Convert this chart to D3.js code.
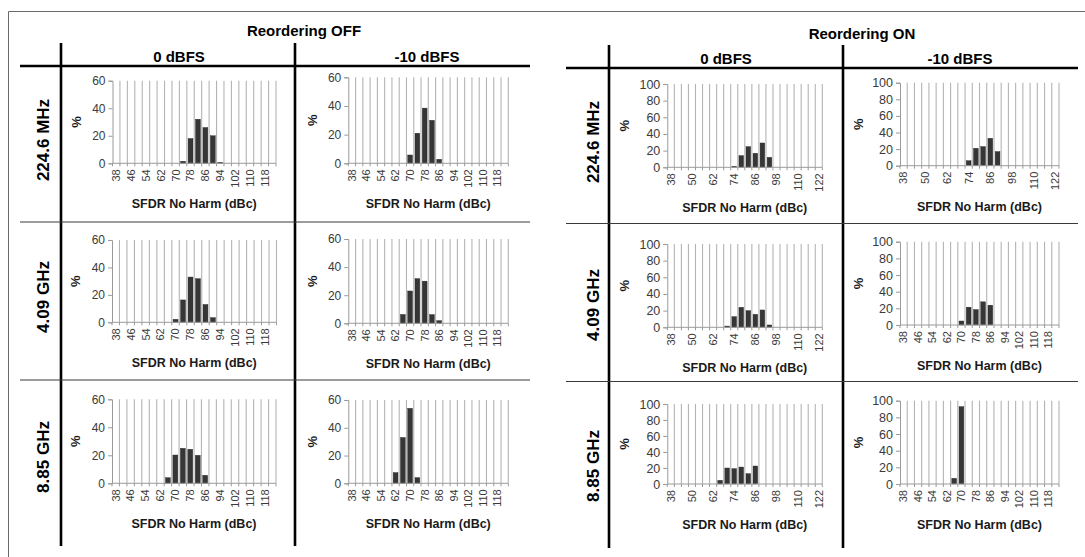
<!DOCTYPE html>
<html>
<head>
<meta charset="utf-8">
<script src="https://cdn.jsdelivr.net/npm/d3@7"></script>
<style>
  html, body { margin: 0; padding: 0; background: #fff; }
  svg { display: block; font-family: "Liberation Sans", Arial, sans-serif; }
</style>
</head>
<body>
<svg id="chart" width="1085" height="557"></svg>
<script>
// SFDR (no harmonics) histogram bins, dBc
const bins = [38, 42, 46, 50, 54, 58, 62, 66, 70, 74, 78, 82, 86, 90, 94, 98, 102, 106, 110, 114, 118, 122];

// Category labels shown on the x axes
const labelsEvery2 = [38, 46, 54, 62, 70, 78, 86, 94, 102, 110, 118];
const labelsEvery3 = [38, 50, 62, 74, 86, 98, 110, 122];

// y-axis ticks
const ticksOff = [0, 20, 40, 60];
const ticksOn = [0, 20, 40, 60, 80, 100];

// Row / column headings
const groupTitles = ["Reordering OFF", "Reordering ON"];
const levelTitles = ["0 dBFS", "-10 dBFS"];
const freqTitles = ["224.6 MHz", "4.09 GHz", "8.85 GHz"];
const xTitle = "SFDR No Harm (dBc)";
const yTitle = "%";

// Percentage of parts per bin — Reordering OFF
const off224_0dB   = [0, 0, 0, 0, 0, 0, 0, 0, 0, 1.5, 18, 32, 26, 20, 0.7, 0, 0, 0, 0, 0, 0, 0];
const off224_m10dB = [0, 0, 0, 0, 0, 0, 0, 0, 5.8, 21, 38.5, 30, 2.8, 0, 0, 0, 0, 0, 0, 0, 0, 0];
const off409_0dB   = [0, 0, 0, 0, 0, 0, 0, 0, 2.2, 16.3, 33, 31.8, 13, 3.4, 0, 0, 0, 0, 0, 0, 0, 0];
const off409_m10dB = [0, 0, 0, 0, 0, 0, 0, 6.3, 23, 31.8, 30, 6.2, 1.9, 0, 0, 0, 0, 0, 0, 0, 0, 0];
const off885_0dB   = [0, 0, 0, 0, 0, 0, 0, 4, 20.2, 25, 24.3, 20, 5.7, 0, 0, 0, 0, 0, 0, 0, 0, 0];
const off885_m10dB = [0, 0, 0, 0, 0, 0, 7.7, 33, 54, 4.1, 0, 0, 0, 0, 0, 0, 0, 0, 0, 0, 0, 0];

// Percentage of parts per bin — Reordering ON
const on224_0dB    = [0, 0, 0, 0, 0, 0, 0, 0, 0, 1.2, 14, 24.8, 16.8, 29.2, 12, 0, 0, 0, 0, 0, 0, 0];
const on224_m10dB  = [0, 0, 0, 0, 0, 0, 0, 0, 0, 6, 21, 23, 33, 17, 0, 0, 0, 0, 0, 0, 0, 0];
const on409_0dB    = [0, 0, 0, 0, 0, 0, 0, 0, 1.5, 12.8, 24, 20, 15.6, 20.8, 2.8, 0, 0, 0, 0, 0, 0, 0];
const on409_m10dB  = [0, 0, 0, 0, 0, 0, 0, 0, 4.8, 21.4, 18.5, 27.8, 23.8, 0, 0, 0, 0, 0, 0, 0, 0, 0];
const on885_0dB    = [0, 0, 0, 0, 0, 0, 0, 4.6, 20, 19.2, 21.2, 12.9, 22.5, 0, 0, 0, 0, 0, 0, 0, 0, 0];
const on885_m10dB  = [0, 0, 0, 0, 0, 0, 0, 6.8, 92.8, 0, 0, 0, 0, 0, 0, 0, 0, 0, 0, 0, 0, 0];

const svg = d3.select("#chart");
const FONT = '"Liberation Sans", Arial, sans-serif';

// Plot-area rectangles [left, top, right, bottom] for each small chart
const panels = [
  // Reordering OFF
  { values: off224_0dB,   ticks: ticksOff, labels: labelsEvery2, box: [112.5, 80.7, 276, 163.3], yFont: 12, pctGap: 36 },
  { values: off224_m10dB, ticks: ticksOff, labels: labelsEvery2, box: [348.3, 77.3, 508.3, 163.3], yFont: 12, pctGap: 36 },
  { values: off409_0dB,   ticks: ticksOff, labels: labelsEvery2, box: [112, 240, 276.5, 322.3], yFont: 12, pctGap: 36 },
  { values: off409_m10dB, ticks: ticksOff, labels: labelsEvery2, box: [348.3, 239, 508.3, 323.3], yFont: 12, pctGap: 36 },
  { values: off885_0dB,   ticks: ticksOff, labels: labelsEvery2, box: [112, 399.3, 276, 483.3], yFont: 12, pctGap: 36 },
  { values: off885_m10dB, ticks: ticksOff, labels: labelsEvery2, box: [348.3, 400, 508.3, 483.3], yFont: 12, pctGap: 36 },
  // Reordering ON
  { values: on224_0dB,    ticks: ticksOn, labels: labelsEvery3, box: [667.3, 84, 822.3, 167.3], yFont: 12.5, pctGap: 43 },
  { values: on224_m10dB,  ticks: ticksOn, labels: labelsEvery3, box: [900, 82.7, 1059, 165.7], yFont: 12.5, pctGap: 41.5 },
  { values: on409_0dB,    ticks: ticksOn, labels: labelsEvery3, box: [667.3, 244, 822.3, 327.3], yFont: 12.5, pctGap: 43 },
  { values: on409_m10dB,  ticks: ticksOn, labels: labelsEvery2, box: [900, 241.7, 1059, 325], yFont: 12.5, pctGap: 41.5 },
  { values: on885_0dB,    ticks: ticksOn, labels: labelsEvery3, box: [667.3, 404, 822.3, 484], yFont: 12.5, pctGap: 43 },
  { values: on885_m10dB,  ticks: ticksOn, labels: labelsEvery2, box: [900, 400.7, 1059, 484], yFont: 12.5, pctGap: 41.5 }
];

// ---- table frame ----
const frame = svg.append("g").attr("class", "frame");

// outer border (top and left edges)
frame.append("path")
  .attr("d", "M8.5,557 L8.5,11.5 L1085,11.5")
  .attr("fill", "none").attr("stroke", "#6a6a6a").attr("stroke-width", 1);

function line(x1, y1, x2, y2, w, c) {
  frame.append("line")
    .attr("x1", x1).attr("y1", y1).attr("x2", x2).attr("y2", y2)
    .attr("stroke", c).attr("stroke-width", w);
}

// heavy grid rules
line(61, 43, 61, 546, 2.6, "#000");
line(295, 43, 295, 546, 2.6, "#000");
line(20, 66, 530, 66, 2.6, "#000");
line(609, 45, 609, 548, 2.6, "#000");
line(843, 45, 843, 548, 2.6, "#000");
line(566, 68, 1078, 68, 2.6, "#000");

// light row separators
line(20, 222, 530, 222, 1.2, "#3a3a3a");
line(20, 380, 530, 380, 1.2, "#3a3a3a");
line(566, 223.5, 1078, 223.5, 1.2, "#3a3a3a");
line(566, 381.5, 1078, 381.5, 1.2, "#3a3a3a");

function label(text, x, y, size, rotate) {
  const t = frame.append("text")
    .attr("x", x).attr("y", y)
    .attr("text-anchor", "middle")
    .attr("dominant-baseline", "central")
    .attr("font-family", FONT)
    .attr("font-weight", "bold")
    .attr("font-size", size)
    .attr("fill", "#000")
    .text(text);
  if (rotate) t.attr("transform", `rotate(-90 ${x} ${y})`);
}

// headings
label(groupTitles[0], 304, 30, 15);
label(groupTitles[1], 862, 33, 15);
label(levelTitles[0], 179, 56, 15);
label(levelTitles[1], 427, 56, 15);
label(levelTitles[0], 726, 58, 15);
label(levelTitles[1], 960, 58, 15);

const leftRowY = [140, 297, 457];
const rightRowY = [142, 305, 466];
freqTitles.forEach((f, i) => {
  label(f, 43, leftRowY[i], 17, true);
  label(f, 593, rightRowY[i], 17, true);
});

// ---- small histograms ----
panels.forEach(p => {
  const [x0, y0, x1, y1] = p.box;
  const g = svg.append("g");

  const x = d3.scaleBand().domain(bins).range([x0, x1]).padding(0);
  const y = d3.scaleLinear().domain([0, d3.max(p.ticks)]).range([y1, y0]);
  const bw = x.bandwidth();

  // vertical gridlines at category boundaries
  const bounds = d3.range(bins.length + 1).map(i => x0 + i * bw);
  g.selectAll("line.grid").data(bounds.slice(1)).join("line")
    .attr("class", "grid")
    .attr("x1", d => d).attr("x2", d => d)
    .attr("y1", y0).attr("y2", y1)
    .attr("stroke", "#b4b4b4").attr("stroke-width", 1.1);

  // bars
  const data = bins.map((b, i) => ({ bin: b, v: p.values[i] })).filter(d => d.v > 0);
  g.selectAll("rect.bar").data(data).join("rect")
    .attr("class", "bar")
    .attr("x", d => x(d.bin) + bw * 0.17)
    .attr("width", bw * 0.66)
    .attr("y", d => y(d.v))
    .attr("height", d => y(0) - y(d.v))
    .attr("fill", "#363636")
    .attr("stroke", "#262626").attr("stroke-width", 0.4);

  // y axis
  const ya = g.append("g").attr("transform", `translate(${x0},0)`)
    .call(d3.axisLeft(y).tickValues(p.ticks).tickSize(4).tickPadding(3).tickFormat(d3.format("d")));
  ya.select(".domain").attr("stroke", "#9a9a9a");
  ya.selectAll(".tick line").attr("stroke", "#9a9a9a");
  ya.selectAll("text").attr("font-family", FONT).attr("font-size", p.yFont).attr("fill", "#3a3a3a");

  // x axis: line + boundary ticks
  g.append("line").attr("x1", x0).attr("x2", x1).attr("y1", y1).attr("y2", y1)
    .attr("stroke", "#9a9a9a").attr("stroke-width", 1);
  g.selectAll("line.xtick").data(bounds).join("line")
    .attr("class", "xtick")
    .attr("x1", d => d).attr("x2", d => d)
    .attr("y1", y1).attr("y2", y1 + 3)
    .attr("stroke", "#9a9a9a").attr("stroke-width", 1);

  // x category labels (rotated)
  const xa = g.append("g").attr("transform", `translate(0,${y1})`)
    .call(d3.axisBottom(x).tickValues(p.labels).tickSize(0));
  xa.select(".domain").remove();
  xa.selectAll("text")
    .attr("transform", "rotate(-90)")
    .attr("x", -6).attr("y", 0).attr("dy", "0.35em")
    .style("text-anchor", "end")
    .attr("font-family", FONT).attr("font-size", 11).attr("fill", "#3a3a3a");

  // axis titles
  g.append("text")
    .attr("x", (x0 + x1) / 2).attr("y", y1 + 41)
    .attr("text-anchor", "middle").attr("dominant-baseline", "central")
    .attr("font-family", FONT).attr("font-weight", "bold").attr("font-size", 12.5)
    .attr("fill", "#1a1a1a")
    .text(xTitle);

  const px = x0 - p.pctGap, py = (y0 + y1) / 2;
  g.append("text")
    .attr("x", px).attr("y", py)
    .attr("transform", `rotate(-90 ${px} ${py})`)
    .attr("text-anchor", "middle").attr("dominant-baseline", "central")
    .attr("font-family", FONT).attr("font-weight", "bold").attr("font-size", 13)
    .attr("fill", "#1a1a1a")
    .text(yTitle);
});
</script>
</body>
</html>
